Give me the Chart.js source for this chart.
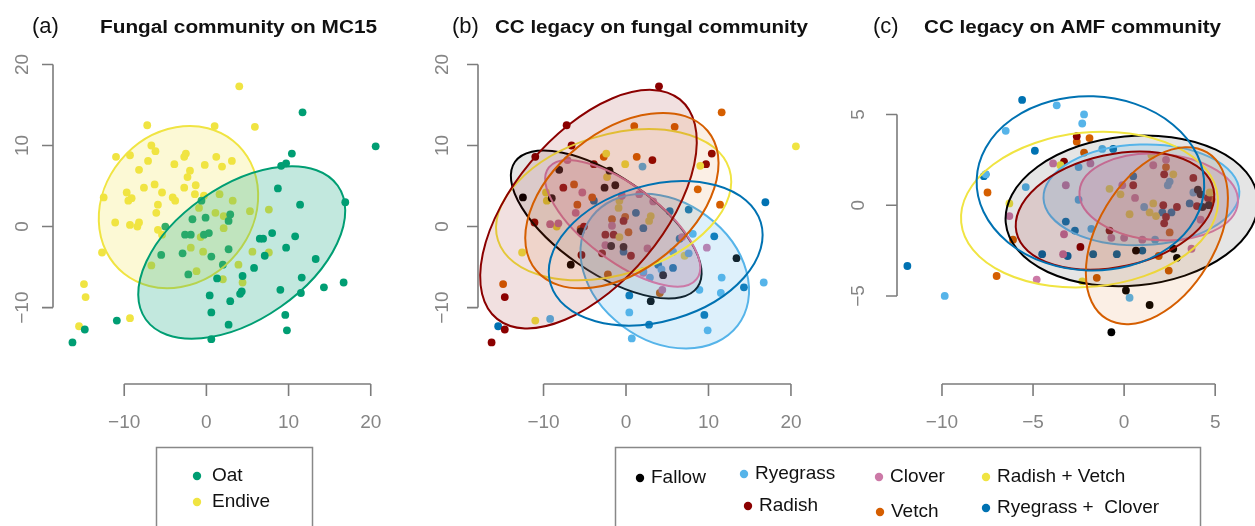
<!DOCTYPE html>
<html>
<head>
<meta charset="UTF-8">
<title>Fungal and AMF communities</title>
<script src="https://cdn.jsdelivr.net/npm/chart.js@4.4.1/dist/chart.umd.min.js"></script>
<style>
  html, body { margin: 0; padding: 0; background: #fff; }
  #wrap { position: relative; width: 1255px; height: 526px; overflow: hidden; }
</style>
</head>
<body>
<div id="wrap"><canvas id="c" width="1255" height="526"></canvas></div>
<script>
// ---- data ----
// (a) Fungal community on MC15
var oatA = [[11.7,14.1],[20.6,9.9],[10.4,9.0],[9.7,7.8],[9.1,7.5],[8.7,4.7],[11.4,2.7],[16.9,3.0],[-0.6,3.2],[2.9,1.5],
  [2.7,0.7],[-1.7,0.9],[-0.1,1.1],[-5.0,0.0],[-2.6,-1.0],[-1.9,-1.0],[-0.3,-1.0],[0.3,-0.8],[8.0,-0.8],[6.5,-1.5],
  [6.9,-1.5],[10.8,-1.2],[9.7,-2.6],[2.7,-2.8],[-2.9,-3.3],[-5.5,-3.5],[0.6,-3.7],[7.1,-3.6],[13.3,-4.0],[2.0,-4.7],
  [5.8,-5.1],[-2.2,-5.9],[1.3,-6.4],[4.4,-6.1],[11.6,-6.3],[16.7,-6.9],[14.3,-7.5],[4.3,-8.0],[4.1,-8.3],[9.0,-7.8],
  [11.5,-8.2],[0.4,-8.5],[2.9,-9.2],[0.6,-10.6],[9.6,-10.9],[-10.9,-11.6],[2.7,-12.1],[9.8,-12.8],[-14.8,-12.7],[0.6,-13.9],[-16.3,-14.3]];
var endiveA = [[4.0,17.3],[-7.2,12.5],[1.0,12.4],[5.9,12.3],[-11.0,8.6],[-9.3,8.8],[-6.7,10.0],[-6.2,9.3],[-7.1,8.1],[-2.5,9.0],
  [-2.7,8.6],[-3.9,7.7],[1.2,8.6],[-0.2,7.6],[1.9,7.4],[3.1,8.1],[-8.2,7.0],[-2.0,6.9],[-2.3,6.1],[-6.3,5.2],
  [-7.6,4.8],[-9.7,4.2],[-9.1,3.5],[-9.5,3.2],[-12.5,3.6],[-5.4,4.2],[-4.1,3.6],[-3.8,3.2],[-2.7,4.8],[-1.3,5.1],
  [-1.4,4.0],[-0.3,3.8],[1.6,4.0],[3.2,3.2],[-5.9,2.7],[-6.1,1.7],[-0.9,2.3],[1.1,1.7],[2.1,1.3],[5.3,1.9],
  [7.6,2.1],[-11.1,0.5],[-9.3,0.2],[-8.2,0.5],[-8.4,0.0],[-5.9,-0.4],[-5.4,-1.0],[2.1,-0.2],[-0.7,-1.3],[-1.9,-2.6],
  [-0.4,-3.1],[-12.7,-3.2],[5.6,-3.1],[7.6,-3.2],[-6.7,-4.8],[-1.2,-5.5],[3.9,-4.7],[2.0,-6.5],[4.4,-6.9],[-14.9,-7.1],
  [-14.7,-8.7],[-9.3,-11.3],[-15.5,-12.3]];

// (b) CC legacy on fungal community
var fallowB = [[-12.5,3.6],[-8.1,7.0],[-9.0,3.5],[-2.0,6.9],[-2.6,4.8],[-1.3,5.1],[-5.5,-0.6],[-1.8,-2.4],[-6.7,-4.7],[4.5,-6.0],
  [3.0,-9.2],[13.4,-3.9],[-0.3,-2.5]];
var ryegrassB = [[2.0,7.4],[-9.2,-11.4],[0.4,-10.6],[0.7,-13.8],[8.9,-7.8],[11.5,-8.2],[11.6,-6.3],[9.9,-12.8],[16.7,-6.9],[8.1,-0.9],
  [7.6,-3.3],[5.7,-3.1],[4.3,-5.3],[2.9,-6.3],[2.1,-5.5]];
var cloverB = [[-7.1,8.2],[-5.3,4.2],[-6.1,1.7],[-9.2,0.3],[-8.2,0.4],[-0.5,3.8],[1.6,4.0],[3.3,3.1],[-1.7,0.1],[-2.5,-2.3],
  [2.6,-2.7],[6.8,-1.3],[9.8,-2.6],[4.4,-7.8],[2.1,-5.7]];
var radishVetchB = [[-2.4,9.0],[-0.1,7.7],[-2.3,6.1],[-9.7,4.2],[-9.6,3.2],[-8.4,0.0],[-0.8,3.2],[-0.9,2.3],[2.8,0.7],[3.0,1.3],
  [-0.8,-1.3],[9.0,7.5],[-12.6,-3.2],[7.1,-3.6],[-11.0,-11.6],[20.6,9.9]];
var radishB = [[4.0,17.3],[-7.2,12.5],[-6.6,10.0],[-11.0,8.6],[3.2,8.2],[10.4,9.0],[9.7,7.7],[-3.9,7.7],[-7.6,4.8],[-11.1,0.5],
  [-5.1,0.0],[-5.4,-3.5],[-2.9,-3.3],[-2.5,-1.0],[0.6,-3.6],[-14.7,-8.7],[-14.7,-12.7],[-16.3,-14.3],[-0.3,0.7],[-1.5,-1.0]];
var vetchB = [[11.6,14.1],[1.0,12.4],[5.9,12.3],[-2.7,8.6],[1.3,8.6],[-6.3,5.2],[-5.9,2.7],[-4.1,3.6],[8.7,4.6],[11.4,2.7],
  [-1.7,0.9],[-0.1,1.2],[0.3,-0.7],[-5.5,-0.3],[-2.2,-5.9],[4.1,-8.2],[-14.9,-7.1]];
var ryeCloverB = [[16.9,3.0],[7.6,2.1],[10.7,-1.2],[0.4,-8.5],[2.8,-12.1],[9.5,-10.9],[14.3,-7.5],[-15.5,-12.3],[5.7,-5.1],[3.9,-4.7],
  [-0.3,-3.1],[2.1,-0.2],[1.2,1.7],[5.3,1.9],[6.5,-1.5],[-3.9,3.2]];

// (c) CC legacy on AMF community
var fallowC = [[-0.7,-7.0],[1.4,-5.5],[0.1,-4.7],[0.65,-2.5],[2.9,-2.9],[2.7,-2.4],[4.05,0.85],[4.2,0.6],[4.65,0.0],[4.3,-0.1]];
var ryegrassC = [[-3.7,5.5],[-2.2,5.0],[-2.3,4.5],[-6.5,4.1],[-7.6,1.7],[-5.4,1.0],[-1.2,3.1],[-2.5,2.1],[-2.5,0.3],[-1.8,-1.3],
  [2.5,1.3],[2.4,1.1],[1.1,-0.1],[1.7,-1.9],[-9.85,-5.0],[0.3,-5.1],[3.8,0.7]];
var cloverC = [[-3.9,2.3],[-1.85,2.3],[-3.2,1.1],[-6.3,-0.6],[-3.3,-1.6],[-3.35,-2.7],[-4.8,-4.1],[-0.7,-1.8],[0.0,-1.8],[1.0,-1.9],
  [0.6,0.4],[1.6,2.2],[2.3,2.5],[3.7,-2.4],[4.2,-0.8],[-0.1,1.1]];
var radishVetchC = [[-6.3,0.1],[-3.5,2.2],[-0.8,0.9],[-0.2,0.6],[0.3,-0.5],[1.4,-0.4],[1.6,0.1],[1.75,-0.6],[2.7,1.7],[4.7,0.7],
  [1.5,2.75],[-2.3,-4.2]];
var radishC = [[-2.6,3.8],[-3.3,2.4],[-2.4,-2.3],[-0.8,-1.4],[0.5,1.1],[2.2,1.7],[2.15,0.0],[2.9,-0.1],[2.2,-1.0],[3.8,1.5],
  [4.0,-0.05],[4.6,0.4],[2.3,-0.65]];
var vetchC = [[-1.9,3.7],[-2.6,3.5],[-2.2,2.9],[-7.5,0.7],[-6.1,-1.9],[-7.0,-3.9],[-1.5,-4.0],[2.45,-3.6],[1.9,-2.8],[2.5,-1.5],
  [2.3,2.1],[4.8,0.3]];
var ryeCloverC = [[-5.6,5.8],[-4.9,3.0],[-7.7,1.6],[-7.6,1.7],[-11.9,-3.35],[-0.6,3.1],[-3.2,-0.9],[-2.7,-1.4],[-4.5,-2.7],[-3.1,-2.8],
  [-1.7,-2.7],[-0.4,-2.7],[1.0,-2.5],[0.5,1.6],[3.6,0.1],[2.6,-0.4],[2.1,-0.4]];

// ellipses: [centre x, centre y, semi-axis a, semi-axis b, angle in degrees]
var ellOatA = [4.3, -3.2, 14.3, 8.2, 35.3];
var ellEndiveA = [-3.4, 2.4, 10.55, 9.1, 51];
var ellB = [[-2.4,0.25,13.5,5.9,-35],[4.7,-5.5,11.1,8.5,-37.3],[-0.4,0.4,11.3,4.6,-37.6],[-1.5,2.7,14.7,8.6,17.4],
  [-4.55,2.15,17.5,9.1,50.7],[-0.5,3.2,13.5,8.5,39.7],[3.6,-3.3,13.3,8.4,16.7]];
var ellC = [[0.42,-0.31,6.95,4.12,5.5],[0.95,0.57,5.38,2.77,2],[1.9,0.45,4.36,2.38,-4],[-1.9,-0.24,7.08,4.25,5.8],
  [-0.5,-0.3,5.54,3.1,12.4],[1.8,-1.68,5.35,3.22,59],[-1.85,1.2,6.25,4.8,-2]];

var groupNames  = ['Fallow', 'Ryegrass', 'Clover', 'Radish + Vetch', 'Radish', 'Vetch', 'Ryegrass +  Clover'];
var groupColors = ['#000000', '#56B4E9', '#CC79A7', '#F0E442', '#8B0000', '#D55E00', '#0072B2'];
var groupFill   = [0.10, 0.20, 0.20, 0, 0.12, 0.10, 0];
var pairNames   = ['Oat', 'Endive'];
var pairColors  = ['#009E73', '#F0E442'];

var ticksABx = [-10, 0, 10, 20];
var ticksABy = [-10, 0, 10, 20];
var ticksCx  = [-10, -5, 0, 5];
var ticksCy  = [-5, 0, 5];

// ---- layout: pixel origin and pixels per unit of each panel ----
var W = 1255, H = 526;
var panels = [
  { id: 'a', x0: 203.7, kx: 8.27, y0: 226, ky: 8.23, xt: ticksABx, yt: ticksABy, axisY: 384, axisX: 53,  labX: 23 },
  { id: 'b', x0: 626,   kx: 8.3,  y0: 226, ky: 8.23, xt: ticksABx, yt: ticksABy, axisY: 384, axisX: 478, labX: 443 },
  { id: 'c', x0: 1127.3,kx: 18.33,y0: 204.3,ky: 18.43,xt: ticksCx, yt: ticksCy, axisY: 384, axisX: 897, labX: 859 }
];

function rgba(hex, a) {
  var n = parseInt(hex.slice(1), 16);
  return 'rgba(' + (n >> 16) + ',' + ((n >> 8) & 255) + ',' + (n & 255) + ',' + a + ')';
}
function pts(arr) { return arr.map(function (p) { return { x: p[0], y: p[1] }; }); }

var scales = { x: { display: false }, y: { display: false } };
panels.forEach(function (p) {
  scales['x' + p.id] = { type: 'linear', display: false, bounds: 'data', min: -p.x0 / p.kx, max: (W - p.x0) / p.kx };
  scales['y' + p.id] = { type: 'linear', display: false, bounds: 'data', min: (p.y0 - H) / p.ky, max: p.y0 / p.ky };
});

function pointSet(label, arr, color, id) {
  return { label: label, data: pts(arr), xAxisID: 'x' + id, yAxisID: 'y' + id,
    backgroundColor: color, borderWidth: 0, pointRadius: 3.9, showLine: false };
}

var datasets = [
  pointSet('Oat', oatA, pairColors[0], 'a'),
  pointSet('Endive', endiveA, pairColors[1], 'a')
];
var seriesB = [fallowB, ryegrassB, cloverB, radishVetchB, radishB, vetchB, ryeCloverB];
var seriesC = [fallowC, ryegrassC, cloverC, radishVetchC, radishC, vetchC, ryeCloverC];
seriesB.forEach(function (s, i) { datasets.push(pointSet(groupNames[i], s, groupColors[i], 'b')); });
seriesC.forEach(function (s, i) { datasets.push(pointSet(groupNames[i], s, groupColors[i], 'c')); });

// ellipse list: [params, colour, fill alpha, panel]
var ellipses = [[ellEndiveA, pairColors[1], 0.22, 'a'], [ellOatA, pairColors[0], 0.24, 'a']];
ellB.forEach(function (e, i) { ellipses.push([e, groupColors[i], groupFill[i], 'b']); });
ellC.forEach(function (e, i) { ellipses.push([e, groupColors[i], groupFill[i], 'c']); });

var ellipsePlugin = {
  id: 'ellipses',
  afterDatasetsDraw: function (chart) {
    var ctx = chart.ctx;
    ellipses.forEach(function (el) {
      var e = el[0], xs = chart.scales['x' + el[3]], ys = chart.scales['y' + el[3]];
      var cx = xs.getPixelForValue(e[0]), cy = ys.getPixelForValue(e[1]);
      var ux = xs.getPixelForValue(1) - xs.getPixelForValue(0);
      var uy = ys.getPixelForValue(0) - ys.getPixelForValue(1);
      ctx.save();
      ctx.beginPath();
      ctx.translate(cx, cy);
      ctx.scale(ux, -uy);
      ctx.rotate(e[4] * Math.PI / 180);
      ctx.ellipse(0, 0, e[2], e[3], 0, 0, Math.PI * 2);
      ctx.restore();
      ctx.save();
      if (el[2] > 0) { ctx.fillStyle = rgba(el[1], el[2]); ctx.fill(); }
      ctx.strokeStyle = el[1];
      ctx.lineWidth = 2;
      ctx.stroke();
      ctx.restore();
    });
  }
};

var FONT = '"Liberation Sans", Arial, Helvetica, sans-serif';

function fmt(v) { return v < 0 ? '\u2212' + Math.abs(v) : String(v); }

function scaledText(ctx, txt, x, y, font, width) {
  ctx.save();
  ctx.font = font;
  var w = ctx.measureText(txt).width;
  ctx.translate(x, y);
  if (width) ctx.scale(width / w, 1);
  ctx.fillText(txt, 0, 0);
  ctx.restore();
}

var decorPlugin = {
  id: 'decor',
  afterDraw: function (chart) {
    var ctx = chart.ctx;
    // R style detached axes
    panels.forEach(function (p) {
      var xs = chart.scales['x' + p.id], ys = chart.scales['y' + p.id];
      ctx.save();
      ctx.strokeStyle = '#7c7c7c';
      ctx.lineWidth = 1.6;
      ctx.beginPath();
      ctx.moveTo(xs.getPixelForValue(p.xt[0]), p.axisY);
      ctx.lineTo(xs.getPixelForValue(p.xt[p.xt.length - 1]), p.axisY);
      p.xt.forEach(function (v) {
        var px = xs.getPixelForValue(v);
        ctx.moveTo(px, p.axisY); ctx.lineTo(px, p.axisY + 12);
      });
      ctx.moveTo(p.axisX, ys.getPixelForValue(p.yt[0]));
      ctx.lineTo(p.axisX, ys.getPixelForValue(p.yt[p.yt.length - 1]));
      p.yt.forEach(function (v) {
        var py = ys.getPixelForValue(v);
        ctx.moveTo(p.axisX, py); ctx.lineTo(p.axisX - 11, py);
      });
      ctx.stroke();
      ctx.fillStyle = '#858585';
      ctx.font = '19px ' + FONT;
      ctx.textAlign = 'center';
      ctx.textBaseline = 'middle';
      p.xt.forEach(function (v) { ctx.fillText(fmt(v), xs.getPixelForValue(v), 423); });
      p.yt.forEach(function (v) {
        ctx.save();
        ctx.translate(p.labX, ys.getPixelForValue(v));
        ctx.rotate(-Math.PI / 2);
        ctx.fillText(fmt(v), 0, 0);
        ctx.restore();
      });
      ctx.restore();
    });

    // titles
    ctx.save();
    ctx.fillStyle = '#111';
    ctx.textBaseline = 'alphabetic';
    ctx.textAlign = 'left';
    scaledText(ctx, '(a)', 32, 33, '22px ' + FONT);
    scaledText(ctx, 'Fungal community on MC15', 100, 33, 'bold 18px ' + FONT, 277);
    scaledText(ctx, '(b)', 452, 33, '22px ' + FONT);
    scaledText(ctx, 'CC legacy on fungal community', 495, 33, 'bold 18px ' + FONT, 313);
    scaledText(ctx, '(c)', 873, 33, '22px ' + FONT);
    scaledText(ctx, 'CC legacy on AMF community', 924, 33, 'bold 18px ' + FONT, 297);
    ctx.restore();

    // legends
    ctx.save();
    ctx.strokeStyle = '#888';
    ctx.lineWidth = 1.5;
    ctx.strokeRect(156.5, 447.5, 156, 120);
    ctx.strokeRect(615.5, 447.5, 585, 120);
    ctx.font = '19px ' + FONT;
    ctx.textBaseline = 'middle';
    var legA = [[197, 476], [197, 502]];
    pairNames.forEach(function (n, i) {
      ctx.fillStyle = pairColors[i];
      ctx.beginPath(); ctx.arc(legA[i][0], legA[i][1], 4.2, 0, Math.PI * 2); ctx.fill();
      ctx.fillStyle = '#111';
      ctx.fillText(n, legA[i][0] + 15, legA[i][1]);
    });
    var legB = [[640, 478], [744, 474], [879, 477], [986, 477], [748, 506], [880, 512], [986, 508]];
    groupNames.forEach(function (n, i) {
      ctx.fillStyle = groupColors[i];
      ctx.beginPath(); ctx.arc(legB[i][0], legB[i][1], 4.2, 0, Math.PI * 2); ctx.fill();
      ctx.fillStyle = '#111';
      ctx.fillText(n, legB[i][0] + 11, legB[i][1]);
    });
    ctx.restore();
  }
};

new Chart(document.getElementById('c'), {
  type: 'scatter',
  data: { datasets: datasets },
  options: {
    responsive: false,
    animation: false,
    layout: { padding: 0 },
    scales: scales,
    plugins: { legend: { display: false }, tooltip: { enabled: false } }
  },
  plugins: [ellipsePlugin, decorPlugin]
});
</script>
</body>
</html>
